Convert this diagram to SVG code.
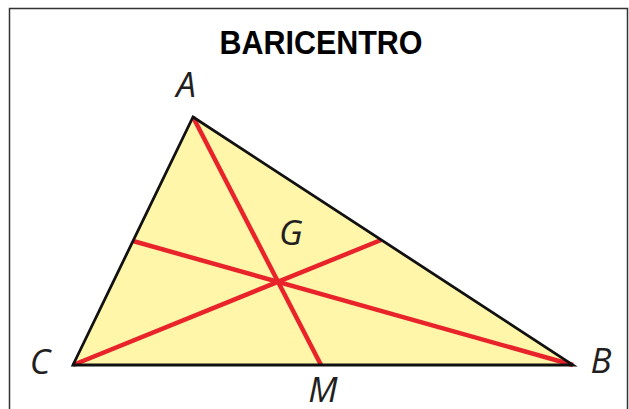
<svg xmlns="http://www.w3.org/2000/svg" width="629" height="409" viewBox="0 0 629 409">
<style>
.lbl{font-family:"Open Sans","Liberation Sans",sans-serif;font-style:italic;font-size:35px;fill:#231f20}
.title{font-family:"Liberation Sans",Arial,sans-serif;font-weight:bold;font-size:33px;fill:#000}
.med{stroke:#e8232a;stroke-width:4.5;stroke-linecap:butt;fill:none}
</style>
<rect x="0" y="0" width="629" height="409" fill="#fff"/>
<path d="M9.5 420 V8.5 H627.5 V420" fill="none" stroke="#333" stroke-width="1.5"/>
<text class="title" x="321" y="54" text-anchor="middle" textLength="203" lengthAdjust="spacingAndGlyphs">BARICENTRO</text>
<g id="triangle">
<polygon points="193,117 573,365 73,365" fill="#fff6aa" stroke="none"/>
</g>
<g id="connectors">
<line class="med" x1="193" y1="117" x2="321" y2="365"/>
<line class="med" x1="73" y1="365" x2="381" y2="240"/>
<line class="med" x1="573" y1="365" x2="133" y2="241"/>
</g>
<g id="outline">
<polygon points="193,117 573,365 73,365" fill="none" stroke="#111" stroke-width="2.8" stroke-linejoin="miter"/>
</g>
<g id="A"><text class="lbl" x="186" y="97" text-anchor="middle">A</text></g>
<g id="B"><text class="lbl" x="601" y="373" text-anchor="middle">B</text></g>
<g id="C"><text class="lbl" x="40" y="374" text-anchor="middle">C</text></g>
<g id="M"><text class="lbl" x="323" y="402" text-anchor="middle">M</text></g>
<g id="G"><text class="lbl" x="291" y="245" text-anchor="middle" font-size="31">G</text></g>
</svg>
